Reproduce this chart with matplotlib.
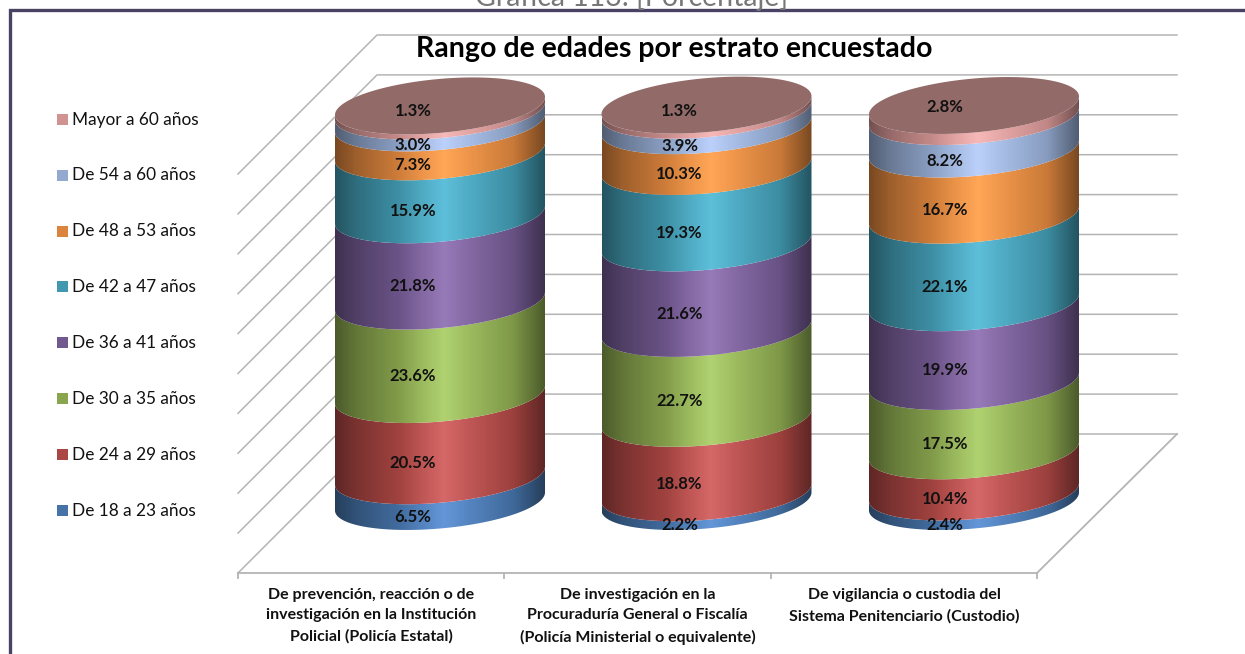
import numpy as np
import matplotlib
matplotlib.use("Agg")
import matplotlib.pyplot as plt
from matplotlib.patches import Polygon, Rectangle
from matplotlib.colors import to_rgb

plt.rcParams['font.family'] = ['Lato', 'DejaVu Sans']

title = "Rango de edades por estrato encuestado"
header = "Gráfica 113. [Porcentaje]"
categories = ["De prevención, reacción o de\ninvestigación en la Institución\nPolicial (Policía Estatal)",
              "De investigación en la\nProcuraduría General o Fiscalía\n(Policía Ministerial o equivalente)",
              "De vigilancia o custodia del\nSistema Penitenciario (Custodio)"]
series_names = ["De 18 a 23 años", "De 24 a 29 años", "De 30 a 35 años", "De 36 a 41 años",
                "De 42 a 47 años", "De 48 a 53 años", "De 54 a 60 años", "Mayor a 60 años"]
age_18_23 = [6.5, 2.2, 2.4]
age_24_29 = [20.5, 18.8, 10.4]
age_30_35 = [23.6, 22.7, 17.5]
age_36_41 = [21.8, 21.6, 19.9]
age_42_47 = [15.9, 19.3, 22.1]
age_48_53 = [7.3, 10.3, 16.7]
age_54_60 = [3.0, 3.9, 8.2]
age_60_up = [1.3, 1.3, 2.8]
series = [age_18_23, age_24_29, age_30_35, age_36_41, age_42_47, age_48_53, age_54_60, age_60_up]
base_colors = ["#4572A7", "#AA4643", "#89A54E", "#71588F", "#4198AF", "#DB843D", "#93A9CF", "#D19392"]
peak_colors = ["#6496D8", "#D56868", "#B0D270", "#977AB8", "#5EBFDA", "#FFA657", "#BBD0FA", "#F7B8B8"]

W, H = 1245, 654
fig = plt.figure(figsize=(W / 100, H / 100), dpi=100)
ax = fig.add_axes([0, 0, 1, 1])
ax.set_xlim(0, W)
ax.set_ylim(H, 0)
ax.axis("off")

# frame and clipped header
ax.plot([10, 10, W], [H, 10, 10], color="#4a4264", lw=2.4, solid_joinstyle="miter", zorder=1)
ax.text(632, -3, header, ha="center", va="center", fontsize=20.5, color="#777777", zorder=1)

# 3D box: back wall, side wall, floor
GRID = "#b4b4b4"
back_x0, back_x1, front_x0, front_x1 = 377, 1177, 238, 1037
back_top, step, depth = 35, 39.9, 139
for i in range(11):
    yb = back_top + i * step
    ax.plot([front_x0, back_x0, back_x1], [yb + depth, yb, yb], color=GRID, lw=1.1, zorder=2)
floor_back = back_top + 10 * step
ax.plot([front_x0, front_x1, back_x1], [floor_back + depth, floor_back + depth, floor_back], color=GRID, lw=1.3, zorder=2)
for i in range(4):
    xt = front_x0 + i * (front_x1 - front_x0) / 3
    ax.plot([xt, xt], [floor_back + depth, floor_back + depth + 5], color=GRID, lw=1.3, zorder=2)

# cylinders
centers = [440, 706.5, 974]
label_dx = [27, 27, 29]
cap_label_dy = [5.5, 5.5, 1.5]
a, b, s = 105, 27.0, 9.0
base_y, k = 501.5, 3.96
t = np.linspace(np.pi, 0, 121)


def front_arc(cx, cy):
    return cx + a * np.cos(t), cy + b * np.sin(t) - s * np.cos(t)


def gradient(base, peak):
    base, peak = np.array(to_rgb(base)), np.array(to_rgb(peak))
    u = np.linspace(0, 1, 256)
    stops = [0, 0.1, 0.3, 0.42, 0.52, 0.64, 0.85, 1]
    mid = (base + peak) / 2
    rows = [0.55 * base, 0.72 * base, 0.94 * base, mid, peak, mid, 0.92 * base, 0.55 * base]
    rows = np.array([np.clip(r, 0, 1) for r in rows])
    return np.stack([np.interp(u, stops, rows[:, c]) for c in range(3)], axis=-1)[None, :, :]


for c, cx in enumerate(centers):
    bottom = 0.0
    for n, vals in enumerate(series):
        v = vals[c]
        top = bottom + v
        xl, yl = front_arc(cx, base_y - bottom * k)
        xu, yu = front_arc(cx, base_y - top * k)
        poly = Polygon(np.r_[np.c_[xl, yl], np.c_[xu, yu][::-1]], closed=True, fc="none", ec="none",
                       transform=ax.transData)
        ax.add_patch(poly)
        im = ax.imshow(gradient(base_colors[n], peak_colors[n]), extent=(cx - a, cx + a, H, 0),
                       aspect="auto", zorder=3, interpolation="bilinear")
        im.set_clip_path(poly)
        if n < len(series) - 1:
            ymid = base_y - (bottom + v / 2) * k + np.hypot(b, s) - 0.5
            ax.text(cx - label_dx[c], ymid, f"{v:.1f}%", ha="center", va="center", fontsize=12,
                    fontweight="bold", color="#111111", zorder=6)
        bottom = top
    # top cap
    cap_y = base_y - bottom * k
    tt = np.linspace(0, 2 * np.pi, 241)
    ax.add_patch(Polygon(np.c_[cx + a * np.cos(tt), cap_y + b * np.sin(tt) - s * np.cos(tt)], closed=True,
                         fc="#926A68", ec="none", zorder=4))
    ax.text(cx - label_dx[c], cap_y + cap_label_dy[c], f"{series[-1][c]:.1f}%", ha="center", va="center",
            fontsize=12, fontweight="bold", color="#111111", zorder=6)

# category labels
label_centers = [371, 637.5, 904]
for xc, lab in zip(label_centers, categories):
    ax.text(xc, 587.5, lab, ha="center", va="top", fontsize=11.5, fontweight="bold", color="#111111",
            linespacing=1.62, zorder=6)

# legend
legend_tops = [510, 454, 398, 342, 286, 231, 175, 119]
for name, col, ly in zip(series_names, base_colors, legend_tops):
    ax.add_patch(Rectangle((56.5, ly - 5), 11, 10.5, fc=col, ec="none", zorder=6))
    ax.text(72, ly + 0.5, name, ha="left", va="center", fontsize=12.4, color="#111111", zorder=6)

# title
ax.text(674.5, 49, title, ha="center", va="center", fontsize=20.5, fontweight="bold", color="black", zorder=7)

ax.set_xlim(0, W)
ax.set_ylim(H, 0)
fig.savefig("out.png", dpi=100, facecolor="white")
